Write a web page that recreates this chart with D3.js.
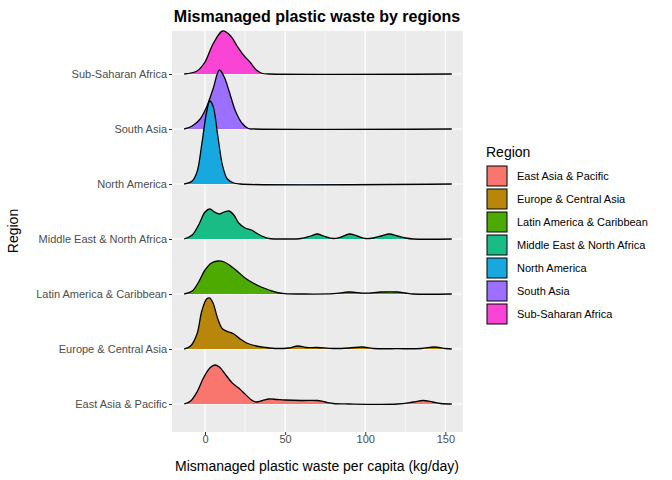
<!DOCTYPE html>
<html><head><meta charset="utf-8">
<script src="https://cdn.jsdelivr.net/npm/d3@7"></script>
<style>body{margin:0;background:#fff;font-family:"Liberation Sans",Arial,sans-serif}</style>
</head><body><svg id="c" width="672" height="480"></svg>
<script>
const regions = ["East Asia & Pacific","Europe & Central Asia","Latin America & Caribbean","Middle East & North Africa","North America","South Asia","Sub-Saharan Africa"];
const fills = ["#F8766D","#B8860B","#4DAA00","#1ABC86","#17A8E0","#9B6FFF","#F944D6"];
const xTicks = [0,50,100,150];
// density curves: [x, relative height]
const eastAsia = [[-13,0],[-9,3],[-5,12],[-1,26],[3,36],[6,39],[9,37],[13,29],[17,21],[21,16],[25,10],[29,4],[32,2],[36,3.5],[40,5],[45,4.5],[50,4],[60,3.5],[70,3.5],[75,2],[80,0.5],[90,0],[120,0],[130,2],[136,3.5],[142,2],[147,0.5],[154,0]];
const europe = [[-13,0],[-9,3],[-5,15],[-2,38],[1,50],[3,51],[5,46],[8,30],[11,20],[15,17],[18,15],[22,10],[26,6],[32,3],[38,1.5],[45,0.5],[52,1],[58,3],[63,1.5],[70,1.5],[80,0.5],[90,1],[98,2],[105,0.5],[120,0.3],[135,0.5],[143,2],[150,0.5],[154,0]];
const latam = [[-13,0],[-8,3],[-4,12],[0,24],[4,31],[8,33],[12,32],[16,28],[20,23],[25,16],[30,11],[35,7],[40,4],[45,1.5],[50,0.3],[60,0],[80,0.3],[90,2],[100,0.8],[110,2],[120,2],[125,1],[130,0],[154,0]];
const mena = [[-13,0],[-8,4],[-4,14],[0,27],[3,30],[6,27],[9,25],[12,27],[15,28],[18,24],[21,16],[25,11],[29,9],[33,5],[37,2],[40,0.5],[50,0],[60,0.5],[66,3],[70,5],[74,3],[80,0.5],[85,2],[90,5],[95,3],[100,0.5],[105,1],[110,3],[115,5],[120,3],[125,1],[130,0],[154,0]];
const northAm = [[-13,0],[-8,3],[-5,12],[-2,40],[1,72],[3,83],[5,78],[8,48],[11,18],[14,5],[18,1],[22,0],[154,0]];
const southAsia = [[-13,0],[-8,3],[-3,10],[1,22],[5,40],[9,59],[12,52],[15,38],[19,18],[23,6],[27,0.5],[31,0],[154,0]];
const subSahara = [[-13,0],[-5,3],[0,12],[5,30],[11,43],[16,38],[20,28],[24,19],[28,12],[32,4],[36,0.5],[40,0],[154,0]];
const curves = [eastAsia,europe,latam,mena,northAm,southAsia,subSahara];

const svg = d3.select("#c");
const L=172,R=463,T=31,B=432;
const x = d3.scaleLinear().domain([-20.6,161]).range([L,R]);
const y = d3.scalePoint().domain(regions).range([404,74]);
const h = d3.scaleLinear().domain([0,1]).range([0,-1]);
svg.append("rect").attr("x",L).attr("y",T).attr("width",R-L).attr("height",B-T).attr("fill","#EBEBEB");
[-25,25,75,125].forEach(v=>{ if(x(v)>L) svg.append("line").attr("x1",x(v)).attr("x2",x(v)).attr("y1",T).attr("y2",B).attr("stroke","#fff").attr("stroke-width",0.6);});
xTicks.forEach(v=>svg.append("line").attr("x1",x(v)).attr("x2",x(v)).attr("y1",T).attr("y2",B).attr("stroke","#fff").attr("stroke-width",1.2));
regions.forEach(r=>svg.append("line").attr("x1",L).attr("x2",R).attr("y1",y(r)).attr("y2",y(r)).attr("stroke","#fff").attr("stroke-width",1.2));
for(let i=regions.length-1;i>=0;i--){
  const base=y(regions[i]);
  const area=d3.area().x(d=>x(d[0])).y0(base).y1(d=>base+h(d[1])).curve(d3.curveCatmullRom);
  const line=d3.line().x(d=>x(d[0])).y(d=>base+h(d[1])).curve(d3.curveCatmullRom);
  svg.append("path").datum(curves[i]).attr("d",area).attr("fill",fills[i]);
  svg.append("path").datum(curves[i]).attr("d",line).attr("fill","none").attr("stroke","#000").attr("stroke-width",1.3);
}
const ax=svg.append("g").attr("transform",`translate(0,${B})`).call(d3.axisBottom(x).tickValues(xTicks).tickSize(3).tickPadding(1));
ax.select(".domain").remove();
ax.selectAll("line").attr("stroke","#333");
ax.selectAll("text").attr("fill","#4D4D4D").attr("dy","0.6em").style("font-size","11px").style("font-family","Liberation Sans, Arial");
const ay=svg.append("g").attr("transform",`translate(${L},0)`).call(d3.axisLeft(y).tickSize(3).tickPadding(2));
ay.select(".domain").remove();
ay.selectAll("line").attr("stroke","#333");
ay.selectAll("text").attr("fill","#4D4D4D").attr("dy","0.32em").style("font-size","11px").style("font-family","Liberation Sans, Arial");
svg.append("text").attr("x",317).attr("y",471).attr("text-anchor","middle").style("font-size","14px").text("Mismanaged plastic waste per capita (kg/day)");
svg.append("text").attr("transform","translate(18,231) rotate(-90)").attr("text-anchor","middle").style("font-size","14px").text("Region");
svg.append("text").attr("x",317).attr("y",22).attr("text-anchor","middle").style("font-size","16px").style("font-weight","bold").text("Mismanaged plastic waste by regions");
const lg=svg.append("g").attr("transform","translate(486,0)");
lg.append("text").attr("x",0).attr("y",157).style("font-size","14px").text("Region");
regions.forEach((r,i)=>{
  const yy=166+i*23;
  lg.append("rect").attr("x",1).attr("y",yy).attr("width",20).attr("height",20).attr("fill",fills[i]).attr("stroke","#000").attr("stroke-width",1);
  lg.append("text").attr("x",31).attr("y",yy+10).attr("dy","0.35em").style("font-size","11px").text(r);
});
</script></body></html>
